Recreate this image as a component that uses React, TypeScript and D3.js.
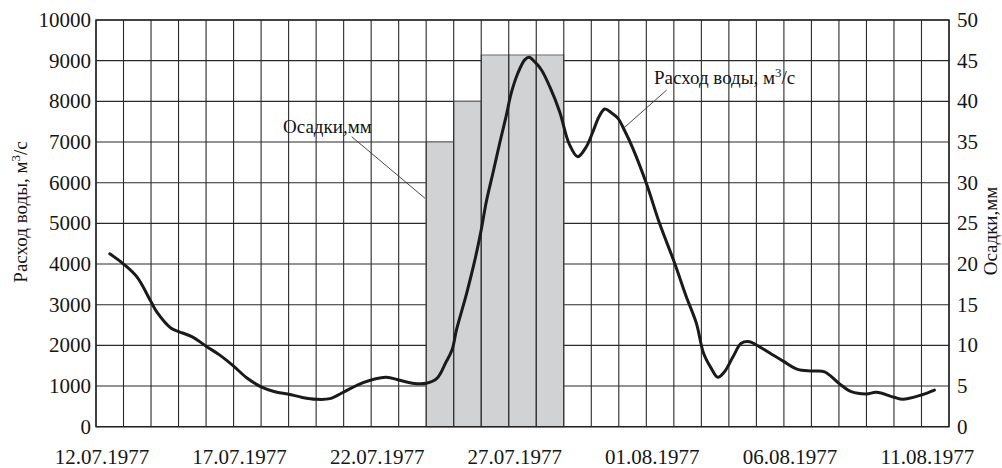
import React from "react";
import * as d3 from "d3";

// Water discharge (m³/s) by day offset from 12.07.1977
const flowDay = [
  0.5, 1, 1.5, 2, 2.24, 2.73, 3, 3.5, 4, 4.5, 5, 5.5, 6, 6.5, 7, 7.5, 8, 8.5, 9,
  9.5, 10, 10.55, 11, 11.5, 12, 12.39, 12.7, 12.94, 13.1, 13.47, 13.77, 14.0,
  14.19, 14.43, 14.67, 14.9, 15.09, 15.33, 15.58, 15.74, 15.94, 16.19, 16.49,
  16.85, 17.2, 17.51, 17.82, 18.06, 18.28, 18.49, 18.73, 18.97, 19.2, 19.51, 20.0,
  20.48, 21.03, 21.45, 21.82, 22.08, 22.36, 22.6, 22.84, 23.15, 23.45, 23.75, 24,
  24.5, 25, 25.5, 26, 26.48, 27, 27.45, 28, 28.36, 29, 29.32, 30, 30.47,
];
const flowRate = [
  4250, 4000, 3670, 3070, 2790, 2420, 2340, 2210, 1980, 1760, 1490, 1190, 980, 860,
  800, 720, 675, 690, 850, 1025, 1150, 1215, 1150, 1070, 1070, 1190, 1560, 1890,
  2380, 3280, 4100, 4840, 5550, 6250, 6970, 7620, 8200, 8690, 9020, 9085, 8975,
  8770, 8360, 7745, 6950, 6640, 6885, 7255, 7620, 7810, 7720, 7580, 7295, 6845,
  5985, 5000, 4020, 3200, 2540, 1805, 1435, 1215, 1350, 1720, 2050, 2090, 2010,
  1805, 1600, 1410, 1370, 1350, 1065, 860, 805, 845, 725, 675, 780, 900,
];

// Daily precipitation (mm): day offset of each bar's left edge
const rainDay = [12, 13, 14, 15, 16];
const rainMm = [35, 40, 45.7, 45.7, 45.7];

const dateTickDay = [0, 5, 10, 15, 20, 25, 30];
const dateTickLabel = [
  "12.07.1977",
  "17.07.1977",
  "22.07.1977",
  "27.07.1977",
  "01.08.1977",
  "06.08.1977",
  "11.08.1977",
];
const flowTicks = [0, 1000, 2000, 3000, 4000, 5000, 6000, 7000, 8000, 9000, 10000];
const rainTicks = [0, 5, 10, 15, 20, 25, 30, 35, 40, 45, 50];

const W = 1002;
const H = 468;
const left = 96;
const right = 949;
const top = 20;
const bottom = 426.7;
const font = '"Liberation Serif", "Times New Roman", Times, "DejaVu Serif", serif';
const ink = "#151515";

export default function App() {
  const x = d3.scaleLinear().domain([0, 31]).range([left, right]);
  const yFlow = d3.scaleLinear().domain([0, 10000]).range([bottom, top]);
  const yRain = d3.scaleLinear().domain([0, 50]).range([bottom, top]);

  const days = d3.range(0, 32);
  const pts: [number, number][] = flowDay.map((d, i) => [d, flowRate[i]]);
  const line = d3
    .line<[number, number]>()
    .x((p) => x(p[0]))
    .y((p) => yFlow(p[1]))
    .curve(d3.curveCatmullRom.alpha(0.5));

  const txt = { fontFamily: font, fill: ink } as React.CSSProperties;

  return (
    <svg
      width={W}
      height={H}
      style={{ position: "absolute", left: 0, top: 0, background: "#fff", fontFamily: font }}
    >
      {/* horizontal grid */}
      {flowTicks.map((t) => (
        <line
          key={"h" + t}
          x1={left}
          x2={right}
          y1={yFlow(t)}
          y2={yFlow(t)}
          stroke="#2a2a2a"
          strokeWidth={1.1}
        />
      ))}
      {/* precipitation bars */}
      {rainDay.map((d, i) => (
        <rect
          key={"r" + d}
          x={x(d)}
          y={yRain(rainMm[i])}
          width={x(d + 1) - x(d)}
          height={bottom - yRain(rainMm[i])}
          fill="#d1d2d4"
          stroke="#6a6a6a"
          strokeWidth={1}
        />
      ))}
      {/* vertical grid */}
      {days.map((d) => (
        <line
          key={"v" + d}
          x1={x(d)}
          x2={x(d)}
          y1={top}
          y2={bottom}
          stroke="#2a2a2a"
          strokeWidth={1.1}
        />
      ))}
      {/* frame */}
      <rect
        x={left}
        y={top}
        width={right - left}
        height={bottom - top}
        fill="none"
        stroke="#222"
        strokeWidth={1.4}
      />
      {/* discharge curve */}
      <path
        d={line(pts) || ""}
        fill="none"
        stroke="#1a1a1a"
        strokeWidth={3}
        strokeLinejoin="round"
        strokeLinecap="round"
      />
      {/* left axis labels */}
      {flowTicks.map((t) => (
        <text key={"lt" + t} x={91} y={yFlow(t) + 7} textAnchor="end" fontSize={21} style={txt}>
          {t}
        </text>
      ))}
      {/* right axis labels */}
      {rainTicks.map((t) => (
        <text key={"rt" + t} x={957} y={yRain(t) + 7} textAnchor="start" fontSize={21} style={txt}>
          {t}
        </text>
      ))}
      {/* date labels */}
      {dateTickDay.map((d, i) => (
        <text key={"dt" + d} x={x(d) + 6} y={463.5} textAnchor="middle" fontSize={21} style={txt}>
          {dateTickLabel[i]}
        </text>
      ))}
      {/* axis titles */}
      <text transform="translate(27,212) rotate(-90)" textAnchor="middle" fontSize={19} style={txt}>
        Расход воды, м<tspan baselineShift="super" fontSize={13}>3</tspan>/с
      </text>
      <text transform="translate(997,231) rotate(-90)" textAnchor="middle" fontSize={19} style={txt}>
        Осадки,мм
      </text>
      {/* annotations */}
      <text x={283} y={133} fontSize={19} style={txt}>
        Осадки,мм
      </text>
      <line x1={351.7} y1={136.7} x2={425} y2={198.3} stroke="#333" strokeWidth={0.9} />
      <text x={654} y={84} fontSize={19} style={txt}>
        Расход воды, м<tspan baselineShift="super" fontSize={13}>3</tspan>/с
      </text>
      <line x1={666.7} y1={90} x2={623.5} y2={128.3} stroke="#333" strokeWidth={0.9} />
    </svg>
  );
}
